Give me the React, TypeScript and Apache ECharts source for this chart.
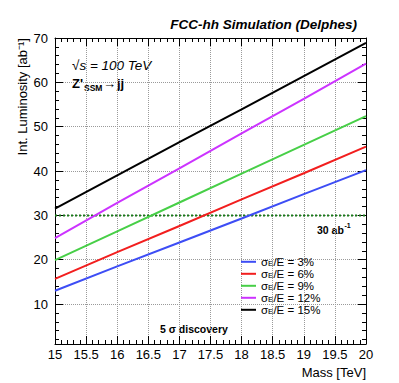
import { useEffect, useRef } from "react";
import * as echarts from "echarts";

const masses = [15, 16, 17, 18, 19, 20];
const lumi3 = [13.0, 18.5, 23.9, 29.3, 34.8, 40.2];
const lumi6 = [15.7, 21.7, 27.6, 33.6, 39.5, 45.5];
const lumi9 = [19.9, 26.4, 32.9, 39.4, 45.9, 52.4];
const lumi12 = [24.9, 32.8, 40.6, 48.5, 56.3, 64.2];
const lumi15 = [31.5, 39.0, 46.5, 53.9, 61.4, 68.9];
const resolutions = ["3%", "6%", "9%", "12%", "15%"];
const lumiSets = [lumi3, lumi6, lumi9, lumi12, lumi15];
const colors = ["#3d4df5", "#f21e1e", "#47cf47", "#cc33ff", "#000000"];
const thresholdLumi = 30;
const xRange = [15, 20];
const yRange = [1, 70];

const FONT = "'Liberation Sans', Arial, Helvetica, sans-serif";

function buildOption() {
  const mkTick = () => ({ show: true, inside: true, length: 8, lineStyle: { color: "#000000", width: 1 } });
  const mkMinor = () => ({ show: true, splitNumber: 5, length: 4, lineStyle: { color: "#000000", width: 1 } });
  const mkLine = () => ({ show: true, onZero: false, lineStyle: { color: "#000000", width: 1 } });
  const mkGrid = () => ({ show: true, lineStyle: { color: "#9a9a9a", width: 1, type: "dotted" } });
  const lineSeries = resolutions.map((r, i) => ({
    name: `σ_E/E = ${r}`,
    type: "line",
    color: colors[i],
    data: masses.map((m, k) => [m, lumiSets[i][k]]),
    symbol: "none",
    lineStyle: { color: colors[i], width: 2 },
    z: 5,
  }));
  const txt = (text: string, x: number, y: number, font: string, align = "left") => ({
    type: "text",
    x,
    y,
    style: { text, font, fill: "#000", textAlign: align, textVerticalAlign: "middle" },
  });
  const opt: any = {
    animation: false,
    backgroundColor: "#ffffff",
    grid: [
      { left: 55, right: 33, top: 38, bottom: 39 },
      { left: 55, right: 33, top: 38, bottom: 39 },
    ],
    xAxis: [
      {
        gridIndex: 0, type: "value", min: xRange[0], max: xRange[1], interval: 0.5,
        axisLine: mkLine(), axisTick: mkTick(), minorTick: mkMinor(),
        axisLabel: { color: "#000", fontSize: 13, margin: 4, fontFamily: FONT },
        splitLine: mkGrid(),
      },
      {
        gridIndex: 1, type: "value", position: "top", min: xRange[0], max: xRange[1], interval: 0.5,
        axisLine: mkLine(), axisTick: mkTick(), minorTick: mkMinor(),
        axisLabel: { show: false }, splitLine: { show: false },
      },
    ],
    yAxis: [
      {
        gridIndex: 0, type: "value", min: yRange[0], max: yRange[1],
        axisLine: mkLine(), axisTick: mkTick(), minorTick: mkMinor(),
        axisLabel: { color: "#000", fontSize: 13, margin: 7, showMinLabel: false, fontFamily: FONT },
        splitLine: mkGrid(),
      },
      {
        gridIndex: 1, type: "value", position: "right", min: yRange[0], max: yRange[1],
        axisLine: mkLine(), axisTick: mkTick(), minorTick: mkMinor(),
        axisLabel: { show: false }, splitLine: { show: false },
      },
    ],
    legend: {
      orient: "vertical",
      left: 241,
      top: 256,
      icon: "rect",
      itemWidth: 15,
      itemHeight: 2,
      itemGap: 0,
      padding: 0,
      data: lineSeries.map((s) => s.name),
      formatter: (n: string) => `{s|σ}{sub|E}{s|${n.slice(3)}}`,
      textStyle: {
        rich: {
          s: { fontSize: 11.5, lineHeight: 11.6, verticalAlign: "top", color: "#000", fontFamily: FONT },
          sub: { fontSize: 8, lineHeight: 5, verticalAlign: "bottom", color: "#000", fontFamily: FONT },
        },
      },
    },
    series: [
      ...lineSeries,
      {
        name: "threshold",
        type: "line",
        data: xRange.map((x) => [x, thresholdLumi]),
        symbol: "none",
        lineStyle: { color: "#1a7a1a", width: 2, type: [2, 2] },
        z: 4,
        silent: true,
      },
    ],
    graphic: [
      txt("FCC-hh Simulation (Delphes)", 357, 24, `italic bold 13.5px ${FONT}`, "right"),
      {
        type: "text",
        x: 22,
        y: 38,
        rotation: Math.PI / 2,
        style: { text: "Int. Luminosity [ab⁻¹]", font: `13px ${FONT}`, fill: "#000", textAlign: "right", textVerticalAlign: "middle" },
      },
      txt("Mass [TeV]", 366, 372, `13px ${FONT}`, "right"),
      txt("√s = 100 TeV", 72, 65, `italic 13.5px ${FONT}`),
      txt("Z'", 72, 83, `bold 13px ${FONT}`),
      txt("SSM", 84, 88, `bold 8.5px ${FONT}`),
      txt("→", 103, 83, `13px ${FONT}`),
      txt("jj", 117, 83, `bold 13px ${FONT}`),
      txt("30 ab", 317, 230, `bold 10.5px ${FONT}`),
      txt("-1", 344.5, 225, `bold 7px ${FONT}`),
      txt("5 σ discovery", 160, 329, `bold 10.5px ${FONT}`),
    ],
  };
  return opt;
}

export default function App() {
  const ref = useRef<HTMLDivElement>(null);
  useEffect(() => {
    if (!ref.current) return;
    const chart = echarts.init(ref.current, null, { renderer: "svg" });
    chart.setOption(buildOption());
    return () => chart.dispose();
  }, []);
  return (
    <div style={{ position: "absolute", left: 0, top: 0, width: 399, height: 383 }}>
      <div ref={ref} style={{ width: 399, height: 383 }} />
    </div>
  );
}
